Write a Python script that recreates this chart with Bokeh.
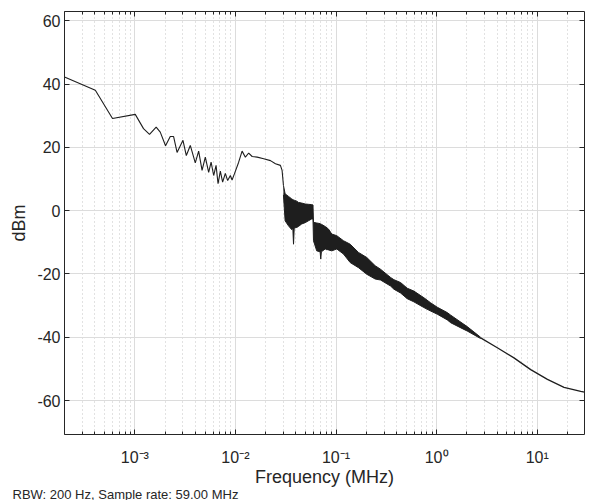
from bokeh.plotting import figure
from bokeh.models import FixedTicker, LogAxis, LinearAxis, Title, CustomJSTickFormatter, Range1d
from bokeh.embed import file_html
from bokeh.resources import INLINE

# ---- data (frequency in MHz, level in dBm) ----
low_freq = [2.0e-4, 4.05e-4, 6.0e-4, 1.01e-3, 1.22e-3, 1.40e-3, 1.63e-3, 1.79e-3, 2.02e-3,
            2.25e-3, 2.43e-3, 2.63e-3, 3.01e-3, 3.25e-3, 3.56e-3, 3.99e-3, 4.31e-3, 4.66e-3,
            5.02e-3, 5.42e-3, 5.73e-3, 6.08e-3, 6.42e-3, 6.72e-3, 7.08e-3, 7.46e-3, 7.94e-3,
            8.37e-3, 8.91e-3, 9.26e-3, 9.77e-3, 1.077e-2, 1.165e-2, 1.256e-2, 1.355e-2,
            1.466e-2, 1.644e-2, 1.91e-2, 2.23e-2, 2.50e-2, 2.80e-2, 2.91e-2, 3.00e-2]
low_dbm = [42.2, 38.0, 29.1, 30.4, 25.9, 24.1, 26.4, 24.8, 20.5,
           23.4, 23.4, 18.4, 22.2, 17.4, 20.6, 15.1, 18.8, 12.7,
           16.9, 12.1, 15.3, 11.1, 14.3, 8.5, 12.5, 9.0, 11.8,
           9.5, 11.1, 9.7, 11.6, 15.3, 18.8, 16.9, 18.2,
           17.1, 16.9, 16.4, 15.8, 14.8, 14.3, 12.7, 8.0]

band_freq = [0.0300, 0.0312, 0.0337, 0.0363, 0.0372, 0.0378, 0.0384, 0.0407, 0.0423, 0.0456,
             0.0493, 0.0532, 0.0574, 0.0590, 0.0597, 0.0643, 0.0695, 0.0705, 0.0715, 0.0780,
             0.0841, 0.0908, 0.1017, 0.1186, 0.1383, 0.1672, 0.2023, 0.2451, 0.2768, 0.3485,
             0.376, 0.438, 0.510, 0.594, 0.747, 0.871, 1.015, 1.276, 1.38, 1.866, 2.01, 2.74]
band_hi = [8.0, 5.3, 4.5, 3.7, 3.5, 3.4, 3.3, 3.0, 2.6, 2.4,
           2.1, 2.0, 1.9, 1.8, -3.7, -3.9, -4.1, -4.2, -4.3, -5.0,
           -5.8, -7.4, -7.9, -9.5, -10.6, -13.2, -14.8, -17.4, -18.5, -21.1,
           -21.8, -22.7, -24.5, -25.4, -27.5, -29.1, -30.5, -32.2, -33.0, -35.9, -36.6, -40.0]
band_lo = [5.0, -3.2, -4.8, -6.0, -5.5, -10.6, -5.5, -5.3, -5.0, -4.2,
           -3.8, -3.2, -2.6, -2.6, -9.5, -12.7, -13.0, -15.3, -13.0, -12.1,
           -12.4, -12.7, -12.1, -13.7, -16.4, -18.0, -20.1, -21.6, -21.9, -23.8,
           -24.8, -26.0, -27.8, -28.8, -30.6, -31.7, -32.7, -34.5, -35.4, -37.5, -38.0, -40.4]

tail_freq = [2.74, 4.01, 5.87, 8.61, 12.63, 18.46, 27.06, 29.5]
tail_dbm = [-40.2, -43.3, -46.5, -50.2, -53.3, -55.8, -57.1, -57.3]

x_major = [1e-3, 1e-2, 1e-1, 1e0, 1e1]
x_minor = [m * 10.0 ** e for e in range(-4, 2) for m in range(2, 10)]
y_major = [-60, -40, -20, 0, 20, 40, 60]

note_text = "RBW: 200 Hz, Sample rate: 59.00 MHz"

# ---- figure ----
FONT = "Liberation Sans"
INK = "#262626"

p = figure(width=589, height=500, x_axis_type="log",
           x_range=Range1d(2e-4, 29.5), y_range=Range1d(-70.7, 62.9),
           output_backend="svg", toolbar_location=None,
           min_border_left=64, min_border_right=5, min_border_top=11, min_border_bottom=0)
p.outline_line_color = None
p.background_fill_color = "white"

sup_js = """
const e = Math.round(Math.log10(tick));
const sup = {'-':'\u207b','0':'\u2070','1':'\u00b9','2':'\u00b2','3':'\u00b3','4':'\u2074',
             '5':'\u2075','6':'\u2076','7':'\u2077','8':'\u2078','9':'\u2079'};
return '10' + String(e).split('').map(c => sup[c]).join('');
"""

xt = FixedTicker(ticks=x_major, minor_ticks=x_minor)
yt = FixedTicker(ticks=y_major)

p.xaxis.ticker = xt
p.xaxis.formatter = CustomJSTickFormatter(code=sup_js)
p.yaxis.ticker = yt
p.yaxis.formatter = CustomJSTickFormatter(code="return tick.toString();")

for ax in (p.xaxis[0], p.yaxis[0]):
    ax.axis_line_color = INK
    ax.major_tick_line_color = INK
    ax.minor_tick_line_color = INK
    ax.major_tick_in = 5
    ax.major_tick_out = 0
    ax.minor_tick_in = 3
    ax.minor_tick_out = 0
    ax.major_label_text_font = FONT
    ax.major_label_text_font_size = "16px"
    ax.major_label_text_color = INK
    ax.axis_label_text_font = FONT
    ax.axis_label_text_font_size = "18px"
    ax.axis_label_text_font_style = "normal"
    ax.axis_label_text_color = INK
p.yaxis.minor_tick_line_color = None
p.xaxis.axis_label = "Frequency (MHz)"
p.yaxis.axis_label = "dBm"
p.xaxis.major_label_standoff = 14
p.xaxis.axis_label_standoff = -2
p.yaxis.major_label_standoff = 4
p.yaxis.axis_label_standoff = 5

blank = CustomJSTickFormatter(code="return '';")
top = LogAxis(ticker=xt, formatter=blank, axis_line_color=INK, major_tick_line_color=INK,
              minor_tick_line_color=INK, major_tick_in=5, major_tick_out=0,
              minor_tick_in=3, minor_tick_out=0, major_label_text_font_size="1px",
              major_label_standoff=0)
right = LinearAxis(ticker=yt, formatter=blank, axis_line_color=INK, major_tick_line_color=INK,
                   minor_tick_line_color=None, major_tick_in=5, major_tick_out=0,
                   major_label_text_font_size="1px", major_label_standoff=0)
p.add_layout(top, "above")
p.add_layout(right, "right")

note = Title(text=note_text, align="left", vertical_align="top", offset=-52, standoff=-6,
             text_font=FONT, text_font_size="13px", text_font_style="normal",
             text_color=INK)
p.add_layout(note, "below")

p.xgrid.grid_line_color = "#dcdcdc"
p.xgrid.grid_line_width = 1
p.xgrid.minor_grid_line_color = "#c4c4c4"
p.xgrid.minor_grid_line_dash = "1 3"
p.ygrid.grid_line_color = "#dcdcdc"
p.ygrid.grid_line_width = 1

LINE = "#1e1e1e"
p.varea(x=band_freq, y1=band_lo, y2=band_hi, fill_color=LINE)
p.line(band_freq, band_hi, line_color=LINE, line_width=1)
p.line(band_freq, band_lo, line_color=LINE, line_width=1)
p.line(low_freq, low_dbm, line_color=LINE, line_width=1.1)
p.line(tail_freq, tail_dbm, line_color=LINE, line_width=1.3)

open("out.html", "w").write(file_html(p, INLINE))
